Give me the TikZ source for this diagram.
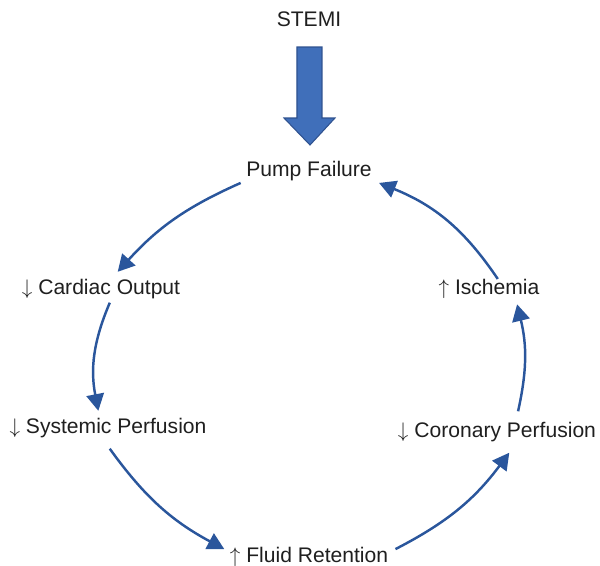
\documentclass[tikz,border=0pt]{standalone}
\usepackage{fontspec}
\setmainfont{Liberation Sans}
\usetikzlibrary{arrows.meta}
\definecolor{flowblue}{RGB}{42,86,156}
\definecolor{pumpblue}{RGB}{64,111,186}
\definecolor{pumpedge}{RGB}{47,82,143}
\newcommand{\dn}{$\downarrow$}
\newcommand{\upp}{$\uparrow$}
\tikzset{
  stage/.style={inner sep=1pt, text=black!88, font=\fontsize{12}{14}\selectfont},
  flow/.style={draw=flowblue, line width=1.4pt, -{Triangle[length=9.5pt,width=10pt]}},
}

\begin{document}
\begin{tikzpicture}[x=0.02cm, y=0.02cm]
  %%%%% FRAME %%%%%
  \useasboundingbox (0,0) rectangle (600,566);

  %%%%% STAGES %%%%%
  \node[stage] (stemi)    at (309,547) {STEMI};
  \node[stage] (pump)     at (309,395) {Pump Failure};
  \node[stage] (cardiac)  at (101,277) {\dn{} Cardiac Output};
  \node[stage] (systemic) at (108,138) {\dn{} Systemic Perfusion};
  \node[stage] (fluid)    at (309,9)   {\upp{} Fluid Retention};
  \node[stage] (coronary) at (497,134) {\dn{} Coronary Perfusion};
  \node[stage] (ischemia) at (489,277) {\upp{} Ischemia};

  %%%%% BIG ARROW %%%%%
  \draw[fill=pumpblue, draw=pumpedge, line width=0.6pt]
    (297,519) -- (322,519) -- (322,448) -- (335,448) -- (310,421)
    -- (284,448) -- (297,448) -- cycle;

  %%%%% CYCLE %%%%%
  \draw[flow] ([xshift=-2pt]pump.south west) to[bend right=12] ([xshift=9.5pt,yshift=3pt]cardiac.north);
  \draw[flow] ([xshift=5pt,yshift=-1pt]cardiac.south) to[bend right=17] ([xshift=-5.5pt,yshift=3pt]systemic.north);
  \draw[flow] ([xshift=1pt,yshift=-5pt]systemic.south) to[bend right=13] ([xshift=-2pt,yshift=4.5pt]fluid.west);
  \draw[flow] ([xshift=3pt,yshift=4.5pt]fluid.east) to[bend right=13] ([xshift=7pt,yshift=-5pt]coronary.south);
  \draw[flow] ([xshift=12pt,yshift=5pt]coronary.north) to[bend right=13] ([xshift=16pt,yshift=-2pt]ischemia.south);
  \draw[flow] ([xshift=5pt,yshift=-1pt]ischemia.north) to[bend right=17] ([xshift=3pt]pump.south east);
\end{tikzpicture}
\end{document}
